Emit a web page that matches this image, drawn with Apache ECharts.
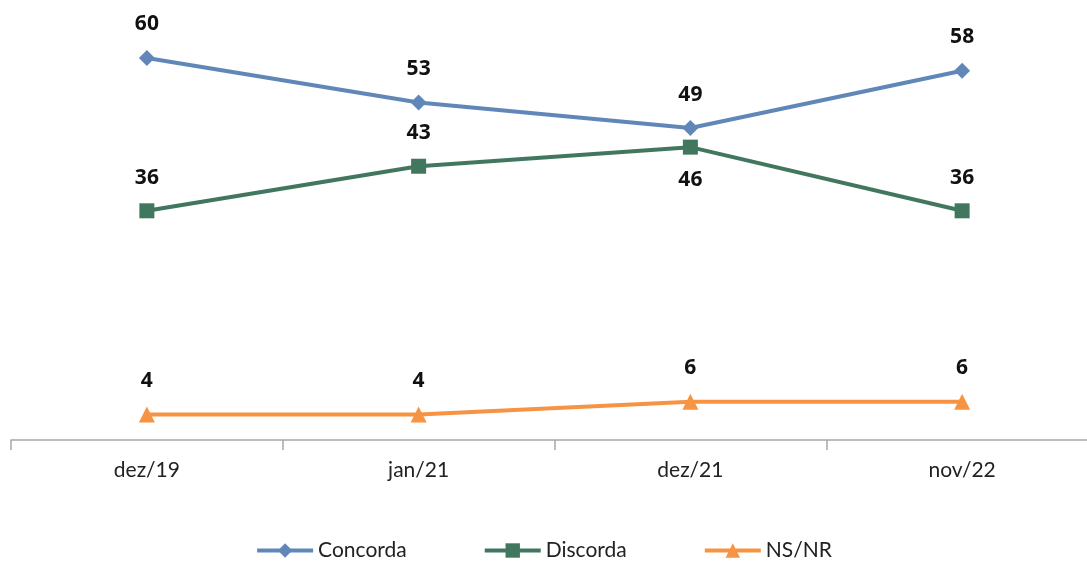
<!DOCTYPE html>
<html>
<head>
<meta charset="utf-8">
<script src="https://cdn.jsdelivr.net/npm/echarts@6/dist/echarts.min.js"></script>
<style>
  html, body { margin: 0; padding: 0; background: #fff; }
  #chart { width: 1087px; height: 564px; }
</style>
</head>
<body>
<div id="chart"></div>
<script>
const categories = ['dez/19', 'jan/21', 'dez/21', 'nov/22'];
const concorda = [60, 53, 49, 58];
const discorda = [36, 43, 46, 36];
const nsnr = [4, 4, 6, 6];
// where each Discorda label sits relative to its point
const discordaLabelPos = ['top', 'top', 'bottom', 'top'];

const chart = echarts.init(document.getElementById('chart'));

const labelStyle = {
  show: true,
  position: 'top',
  distance: 15,
  fontFamily: 'Noto Sans',
  fontWeight: 'bold',
  fontSize: 21,
  color: '#111'
};

chart.setOption({
  backgroundColor: '#fff',
  animation: false,
  grid: { left: 11, right: -11, top: 58, bottom: 124, outerBoundsMode: 'none' },
  legend: {
    bottom: -2,
    left: 'center',
    itemWidth: 56,
    itemHeight: 18,
    itemGap: 76,
    lineStyle: { width: 4 },
    textStyle: { fontFamily: 'Lato', fontSize: 21, color: '#222' },
    data: ['Concorda', 'Discorda', 'NS/NR']
  },
  xAxis: {
    type: 'category',
    data: categories,
    boundaryGap: true,
    axisLine: { lineStyle: { color: '#a6a6a6', width: 1.5 } },
    axisTick: { show: true, length: 10, lineStyle: { color: '#a6a6a6', width: 1.5 } },
    axisLabel: { margin: 20, fontFamily: 'Lato', fontSize: 21, color: '#222' }
  },
  yAxis: {
    type: 'value',
    min: 0,
    max: 60,
    show: false,
    splitLine: { show: false }
  },
  series: [
    {
      name: 'Concorda',
      type: 'line',
      data: concorda,
      symbol: 'diamond',
      symbolSize: 16,
      clip: false,
      lineStyle: { color: '#6187b8', width: 4 },
      itemStyle: { color: '#6187b8' },
      label: labelStyle
    },
    {
      name: 'Discorda',
      type: 'line',
      data: discorda.map((v, i) => ({
        value: v,
        label: { position: discordaLabelPos[i] }
      })),
      symbol: 'rect',
      symbolSize: 15,
      clip: false,
      lineStyle: { color: '#41775f', width: 4 },
      itemStyle: { color: '#41775f' },
      label: labelStyle
    },
    {
      name: 'NS/NR',
      type: 'line',
      data: nsnr,
      symbol: 'triangle',
      symbolSize: 16,
      clip: false,
      lineStyle: { color: '#f79443', width: 4 },
      itemStyle: { color: '#f79443' },
      label: labelStyle
    }
  ]
});
</script>
</body>
</html>
